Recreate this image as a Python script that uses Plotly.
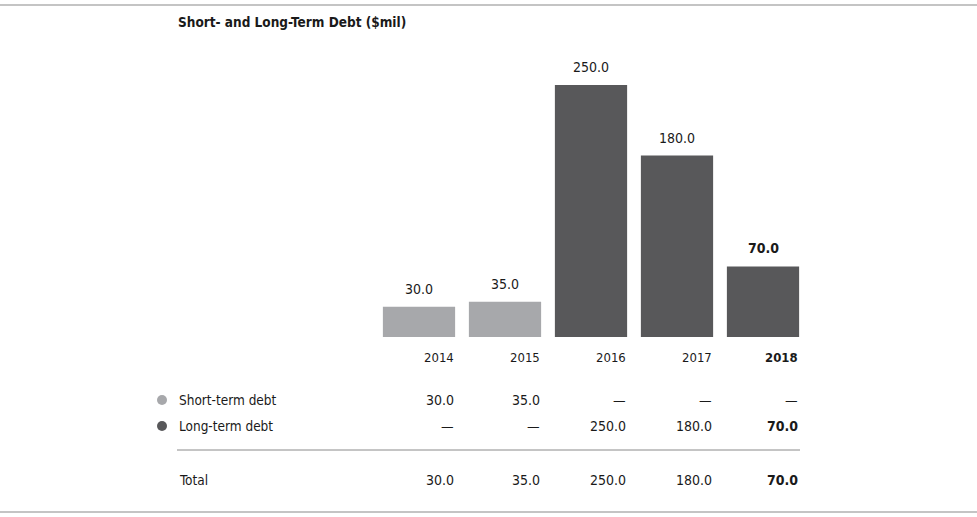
import plotly.graph_objects as go

years = ["2014", "2015", "2016", "2017", "2018"]
short_term = [30.0, 35.0, None, None, None]
long_term = [None, None, 250.0, 180.0, 70.0]
totals = [30.0, 35.0, 250.0, 180.0, 70.0]
title = "Short- and Long-Term Debt ($mil)"
row_labels = ["Short-term debt", "Long-term debt", "Total"]

LIGHT = "#a7a8ab"
DARK = "#58585a"
TXT = "#1a1a1a"
FONT = "Liberation Sans Narrow, DejaVu Sans Condensed, Arial Narrow, sans-serif"

W, H = 977, 517
def px(x):
    return x / W
def py(y):
    return 1 - y / H

last = len(years) - 1
def fmt(v, i):
    if v is None:
        return "—"
    s = f"{v:.1f}"
    return f"<b>{s}</b>" if i == last else s

fig = go.Figure()
fig.add_bar(x=years, y=[v if v is not None else 0 for v in short_term],
            marker_color=LIGHT, marker_line_width=0, hoverinfo="skip")
fig.add_bar(x=years, y=[v if v is not None else 0 for v in long_term],
            marker_color=DARK, marker_line_width=0, hoverinfo="skip")

anns = []
anns.append(dict(text=f"<b>{title}</b>", x=px(176), y=py(22), xref="paper", yref="paper",
                 xanchor="left", yanchor="middle", showarrow=False,
                 font=dict(size=13.5, color=TXT, family=FONT)))
row_y = [400, 426, 480]
rows = [short_term, long_term, totals]
for lbl, ry in zip(row_labels, row_y):
    anns.append(dict(text=lbl, x=px(177), y=py(ry), xref="paper", yref="paper",
                     xanchor="left", yanchor="middle", showarrow=False,
                     font=dict(size=13.5, color=TXT, family=FONT)))
for i, yr in enumerate(years):
    # category axis: annotation x uses the category index
    anns.append(dict(text=fmt(totals[i], i), x=i, xref="x", y=totals[i], yref="y",
                     xanchor="center", yanchor="bottom", yshift=8, showarrow=False,
                     font=dict(size=14, color=TXT, family=FONT)))
    anns.append(dict(text=f"<b>{yr}</b>" if i == last else yr, x=i, xref="x",
                     y=py(357), yref="paper", xanchor="right", yanchor="middle",
                     xshift=37, showarrow=False,
                     font=dict(size=13, color=TXT, family=FONT)))
    for vals, ry in zip(rows, row_y):
        anns.append(dict(text=fmt(vals[i], i), x=i, xref="x", y=py(ry), yref="paper",
                         xanchor="right", yanchor="middle", xshift=37, showarrow=False,
                         font=dict(size=14, color=TXT, family=FONT)))

shapes = [
    dict(type="line", xref="paper", yref="paper", x0=0, x1=1, y0=py(5), y1=py(5),
         line=dict(color="#8a8a8a", width=1.2)),
    dict(type="line", xref="paper", yref="paper", x0=0, x1=1, y0=py(512), y1=py(512),
         line=dict(color="#8a8a8a", width=1.2)),
    dict(type="line", xref="paper", yref="paper", x0=px(177), x1=px(800), y0=py(450), y1=py(450),
         line=dict(color="#8a8a8a", width=1)),
]
for col, ry in [(LIGHT, 400), (DARK, 426)]:
    shapes.append(dict(type="circle", xref="paper", yref="paper",
                       x0=px(157), x1=px(167), y0=py(ry + 5), y1=py(ry - 5),
                       fillcolor=col, line=dict(width=0)))

fig.update_layout(
    width=W, height=H, barmode="overlay", bargap=0.16,
    margin=dict(l=0, r=0, t=0, b=0),
    paper_bgcolor="white", plot_bgcolor="white",
    showlegend=False, annotations=anns, shapes=shapes,
    xaxis=dict(type="category", domain=[px(376), px(806)], showticklabels=False, showgrid=False,
               zeroline=False, showline=False, ticks="", range=[-0.5, 4.5]),
    yaxis=dict(domain=[py(337), py(337 - 300 * 1.008)], range=[0, 300], visible=False),
)
fig.write_html("out.html", config={"displayModeBar": False},
               post_script="document.body.style.margin='0px';")
